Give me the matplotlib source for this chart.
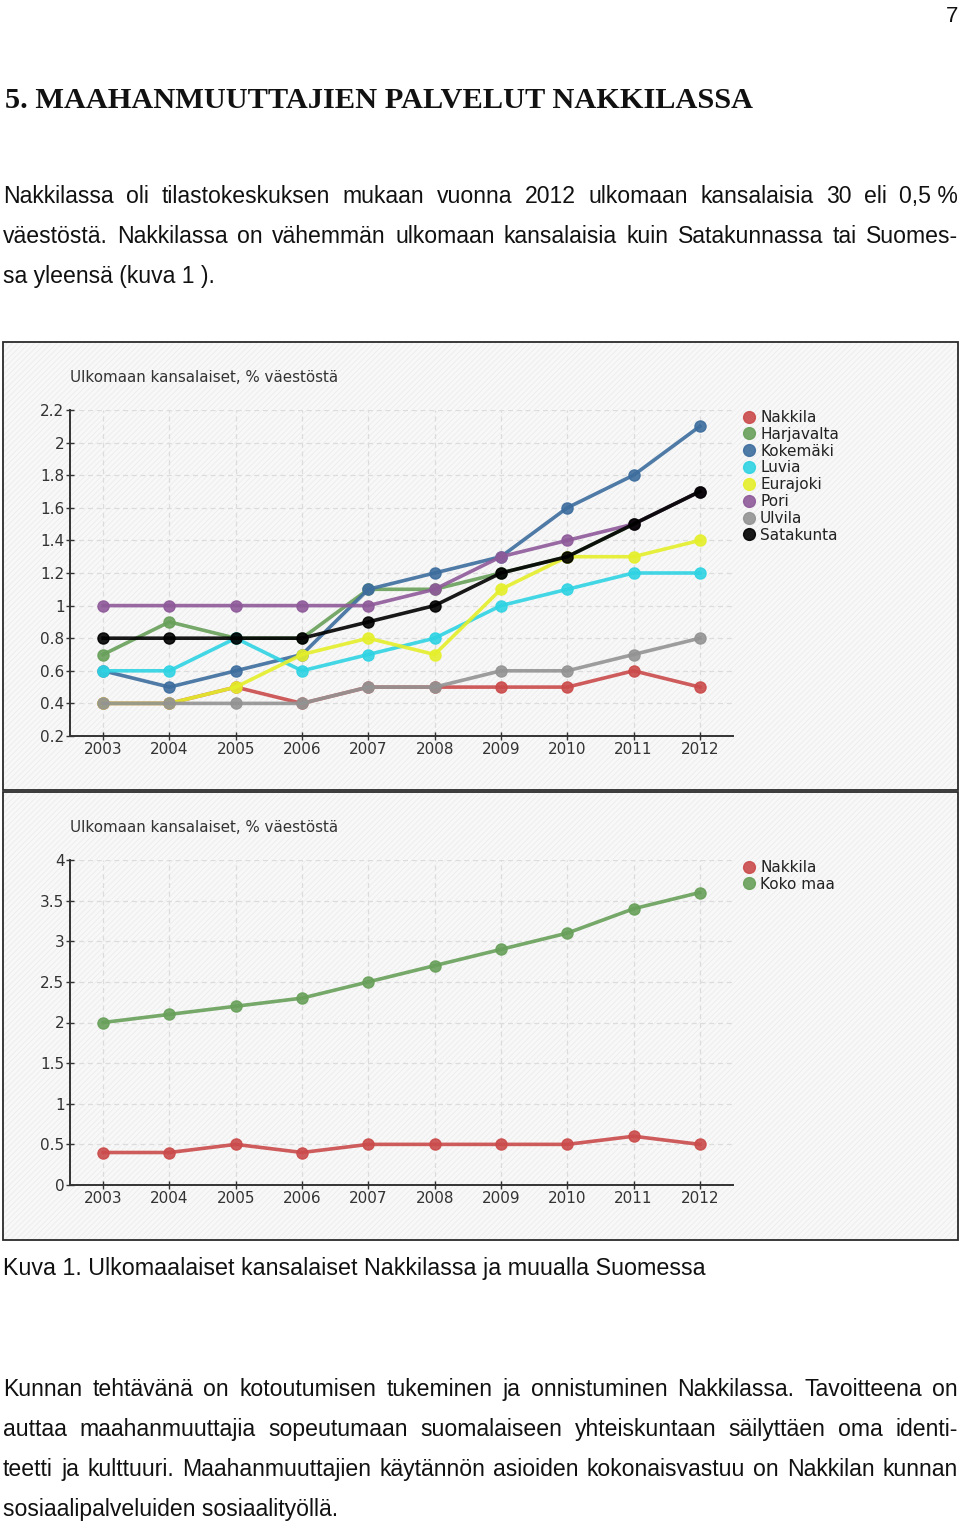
import numpy as np
import matplotlib
matplotlib.use('Agg')
import matplotlib.pyplot as plt
from matplotlib.lines import Line2D
from matplotlib.patches import Rectangle
from matplotlib.ticker import FuncFormatter

# data
years = [2003, 2004, 2005, 2006, 2007, 2008, 2009, 2010, 2011, 2012]

nakkila = [0.4, 0.4, 0.5, 0.4, 0.5, 0.5, 0.5, 0.5, 0.6, 0.5]
harjavalta = [0.7, 0.9, 0.8, 0.8, 1.1, 1.1, 1.2, 1.3, 1.5, 1.7]
kokemaki = [0.6, 0.5, 0.6, 0.7, 1.1, 1.2, 1.3, 1.6, 1.8, 2.1]
luvia = [0.6, 0.6, 0.8, 0.6, 0.7, 0.8, 1.0, 1.1, 1.2, 1.2]
eurajoki = [0.4, 0.4, 0.5, 0.7, 0.8, 0.7, 1.1, 1.3, 1.3, 1.4]
pori = [1.0, 1.0, 1.0, 1.0, 1.0, 1.1, 1.3, 1.4, 1.5, 1.7]
ulvila = [0.4, 0.4, 0.4, 0.4, 0.5, 0.5, 0.6, 0.6, 0.7, 0.8]
satakunta = [0.8, 0.8, 0.8, 0.8, 0.9, 1.0, 1.2, 1.3, 1.5, 1.7]

koko_maa = [2.0, 2.1, 2.2, 2.3, 2.5, 2.7, 2.9, 3.1, 3.4, 3.6]

names1 = ['Nakkila', 'Harjavalta', 'Kokemäki', 'Luvia', 'Eurajoki', 'Pori', 'Ulvila', 'Satakunta']
series1 = [nakkila, harjavalta, kokemaki, luvia, eurajoki, pori, ulvila, satakunta]
colors1 = ['#cb4b4b', '#68a05a', '#3d6d9e', '#2fd3e3', '#e5ef2a', '#8e5a99', '#939393', '#000000']

names2 = ['Nakkila', 'Koko maa']
series2 = [nakkila, koko_maa]
colors2 = ['#cb4b4b', '#68a05a']

chart_title = 'Ulkomaan kansalaiset, % väestöstä'
heading = '5. MAAHANMUUTTAJIEN PALVELUT NAKKILASSA'
para1 = ['Nakkilassa oli tilastokeskuksen mukaan vuonna 2012 ulkomaan kansalaisia 30 eli 0,5\u00a0%',
         'väestöstä. Nakkilassa on vähemmän ulkomaan kansalaisia kuin Satakunnassa tai Suomes-',
         'sa yleensä (kuva 1 ).']
caption = 'Kuva 1. Ulkomaalaiset kansalaiset Nakkilassa ja muualla Suomessa'
para2 = ['Kunnan tehtävänä on kotoutumisen tukeminen ja onnistuminen Nakkilassa. Tavoitteena on',
         'auttaa maahanmuuttajia sopeutumaan suomalaiseen yhteiskuntaan säilyttäen oma identi-',
         'teetti ja kulttuuri. Maahanmuuttajien käytännön asioiden kokonaisvastuu on Nakkilan kunnan',
         'sosiaalipalveluiden sosiaalityöllä.']

plt.rcParams['font.family'] = 'DejaVu Sans'
plt.rcParams['hatch.linewidth'] = 0.6

W, H = 960, 1525
fig = plt.figure(figsize=(W / 100, H / 100), dpi=100)
fig.patch.set_facecolor('white')
renderer = fig.canvas.get_renderer()


def fx(x):
    return x / W


def fy(y):
    return 1 - y / H


def put(x, y, s, **kw):
    return fig.text(fx(x), fy(y), s, **kw)


def fit_size(s, width, **kw):
    t = fig.text(0, 0, s, fontsize=10, **kw)
    w = t.get_window_extent(renderer).width
    t.remove()
    return 10 * width / w


def justify(line, y, x0, x1, size, **kw):
    words = line.split(' ')
    ts = [put(x0, y, w, fontsize=size, va='baseline', **kw) for w in words]
    ws = [t.get_window_extent(renderer).width for t in ts]
    gap = (x1 - x0 - sum(ws)) / (len(ws) - 1)
    x = x0
    for t, w in zip(ts, ws):
        t.set_x(fx(x))
        x += w + gap


body = dict(family='Liberation Sans', color='#111111')
bsize = 16.6

put(958, 22, '7', fontsize=16, ha='right', va='baseline', **body)
hfont = dict(family='Liberation Serif', weight='bold')
hsize = fit_size(heading, 747, **hfont)
put(5, 108, heading, fontsize=hsize, va='baseline', color='#111111', **hfont)

justify(para1[0], 203, 3, 958, bsize, **body)
justify(para1[1], 243, 3, 958, bsize, **body)
put(3, 283, para1[2], fontsize=bsize, va='baseline', **body)

csize = fit_size(caption, 702, family='Liberation Sans')
put(3, 1275, caption, fontsize=csize, va='baseline', **body)

for i, line in enumerate(para2):
    y = 1396 + 40 * i
    if i < 3:
        justify(line, y, 3, 958, bsize, **body)
    else:
        put(3, y, line, fontsize=bsize, va='baseline', **body)

# chart panels: light background, faint diagonal texture, dark frame
for top, bot in [(342, 790), (792, 1240)]:
    xy = (fx(3), fy(bot))
    w, h = fx(955), (bot - top) / H
    fig.patches.append(Rectangle(xy, w, h, transform=fig.transFigure,
                                 facecolor='#f8f8f8', edgecolor='none', zorder=-6))
    fig.patches.append(Rectangle(xy, w, h, transform=fig.transFigure, facecolor='none',
                                 edgecolor='#ececec', hatch='//////', lw=0, zorder=-5))
    fig.patches.append(Rectangle(xy, w, h, transform=fig.transFigure, facecolor='none',
                                 edgecolor='#2a2a2a', lw=1.3, zorder=-4))


def make_axes(top, bottom):
    ax = fig.add_axes([fx(70), fy(bottom), fx(733 - 70), (bottom - top) / H])
    ax.set_facecolor('none')
    ax.set_zorder(2)
    ax.set_xlim(2002.5, 2012.5)
    ax.set_xticks(years)
    ax.yaxis.set_major_formatter(FuncFormatter(lambda v, p: f'{v:g}'))
    for s in ['top', 'right']:
        ax.spines[s].set_visible(False)
    for s in ['left', 'bottom']:
        ax.spines[s].set_color('#333333')
        ax.spines[s].set_linewidth(1.4)
    ax.set_axisbelow(True)
    ax.grid(True, ls=(0, (4, 3)), color='#dcdcdc', lw=0.9)
    ax.tick_params(direction='inout', length=6, width=1, colors='#333333',
                   labelsize=11, pad=1)
    return ax


def draw(ax, series, colors, names, ytitle, legend_y):
    for vals, c in zip(series, colors):
        ax.plot(years, vals, color=c, lw=2.6, marker='o', ms=8, alpha=0.9)
    put(70, ytitle, chart_title, fontsize=10.9, color='#333333', va='center')
    handles = [Line2D([], [], ls='none', marker='o', ms=8.5, color=c, alpha=0.9) for c in colors]
    fig.legend(handles, names, loc='upper left', bbox_to_anchor=(fx(744), fy(legend_y)),
               frameon=False, fontsize=11, handlelength=0.7, handletextpad=0.35,
               labelspacing=0.12, borderpad=0, borderaxespad=0, labelcolor='#222222')


ax1 = make_axes(410, 736)
ax1.set_ylim(0.2, 2.2)
ax1.set_yticks(np.arange(0.2, 2.21, 0.2))
draw(ax1, series1, colors1, names1, 378, 410)

ax2 = make_axes(860, 1185)
ax2.set_ylim(0, 4)
ax2.set_yticks(np.arange(0, 4.01, 0.5))
draw(ax2, series2, colors2, names2, 828, 860)

fig.savefig('out.png', dpi=100)
